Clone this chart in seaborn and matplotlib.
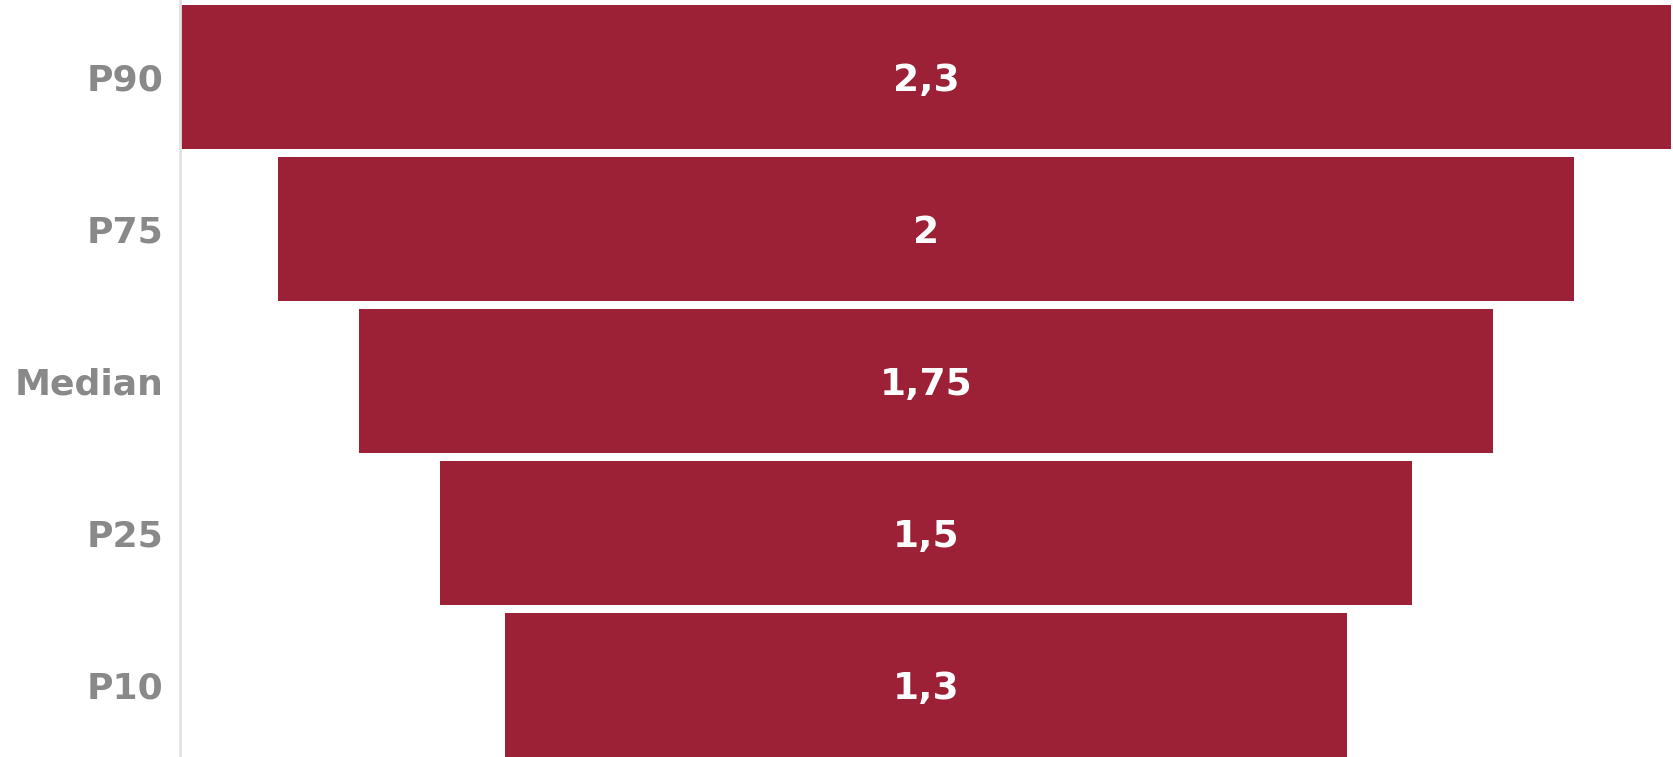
"""Funnel chart of percentile values."""

import matplotlib

matplotlib.use("Agg")
import matplotlib.pyplot as plt
import pandas as pd
import seaborn as sns

categories = ["P90", "P75", "Median", "P25", "P10"]
values = [2.3, 2.0, 1.75, 1.5, 1.3]

BAR_COLOR = "#9c2136"
LABEL_COLOR = "#898989"

df = pd.DataFrame({"category": categories, "value": values})

sns.set_theme(style="white")
plt.rcParams["font.family"] = ["DejaVu Sans"]

fig = plt.figure(figsize=(16.73, 7.57), dpi=100)
ax = fig.add_axes([180 / 1673, 0, 1492 / 1673, 1])

sns.barplot(
    data=df,
    x="value",
    y="category",
    orient="h",
    color=BAR_COLOR,
    saturation=1,
    width=0.95,
    linewidth=0,
    ax=ax,
)

# centre every bar on zero to make the funnel shape
for patch in ax.patches:
    w = patch.get_width()
    patch.set_x(-w / 2)

for i, v in enumerate(values):
    txt = f"{v:g}".replace(".", ",")
    ax.text(0, i + 0.03, txt, ha="center", va="center", color="white",
            fontsize=27, fontweight="bold")

half = max(values) / 2
ax.set_xlim(-half - 0.002, half + 0.002)
ax.set_ylim(4.475, -0.505)

ax.set_xlabel("")
ax.set_ylabel("")
ax.set_xticks([])
ax.tick_params(axis="y", length=0, pad=12)
for lbl in ax.get_yticklabels():
    lbl.set_fontsize(26)
    lbl.set_fontweight("bold")
    lbl.set_color(LABEL_COLOR)
    lbl.set_verticalalignment("center_baseline")

for side in ["top", "right", "bottom"]:
    ax.spines[side].set_visible(False)
ax.spines["left"].set_color("#e2e2e2")
ax.spines["left"].set_linewidth(2)

fig.savefig("out.png", dpi=100)
plt.close(fig)
